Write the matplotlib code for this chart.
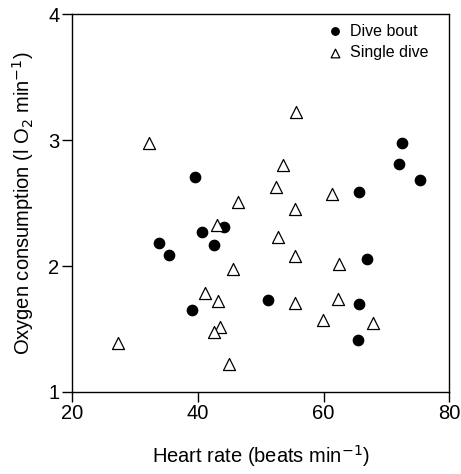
import matplotlib.pyplot as plt

plt.rcParams['font.family'] = ['Liberation Sans', 'DejaVu Sans']

# ===== DADOS =====
bout_hr = [72.5, 72.0, 75.3, 39.5, 65.6, 44.2, 40.6, 33.9, 42.5, 35.5, 66.9, 39.1, 51.1, 65.7, 65.5]
bout_vo2 = [2.98, 2.81, 2.68, 2.71, 2.59, 2.31, 2.27, 2.18, 2.17, 2.09, 2.06, 1.65, 1.73, 1.70, 1.41]

single_hr = [55.6, 32.2, 53.5, 52.5, 61.4, 46.4, 55.4, 43.0, 52.8, 55.5, 62.4,
             45.6, 41.2, 43.2, 55.4, 62.3, 59.9, 67.9, 43.6, 42.6, 27.3, 45.0]
single_vo2 = [3.22, 2.98, 2.80, 2.63, 2.57, 2.51, 2.45, 2.33, 2.23, 2.08, 2.02,
              1.98, 1.79, 1.72, 1.71, 1.74, 1.57, 1.55, 1.52, 1.48, 1.39, 1.22]

# ===== GRAFICO =====
fig = plt.figure(figsize=(4.61, 4.74), dpi=100)
ax = fig.add_axes([0.156, 0.173, 0.819, 0.797])

ax.scatter(bout_hr, bout_vo2, s=55, marker="o", color="black", label="Dive bout", zorder=3)
ax.scatter(single_hr, single_vo2, s=75, marker="^", facecolor="white", edgecolor="black",
           linewidth=0.9, label="Single dive", zorder=3)

ax.set_xlim(20, 80)
ax.set_ylim(1, 4)
ax.set_xticks([20, 40, 60, 80])
ax.set_yticks([1, 2, 3, 4])
ax.tick_params(direction="out", length=7, width=1, labelsize=14.5, pad=2)
for s in ax.spines.values():
    s.set_linewidth(1)

ax.set_xlabel("Heart rate (beats min$^{-1}$)", fontsize=14.5, labelpad=14)
ax.set_ylabel("Oxygen consumption (l O$_2$ min$^{-1}$)", fontsize=14.5, labelpad=9)

ax.legend(loc="upper right", bbox_to_anchor=(0.945, 0.975), frameon=False, fontsize=11.5,
          markerscale=0.72, handletextpad=0.35, borderpad=0, borderaxespad=0,
          labelspacing=0.4, handlelength=1.2)

plt.savefig("out.png", dpi=100)
